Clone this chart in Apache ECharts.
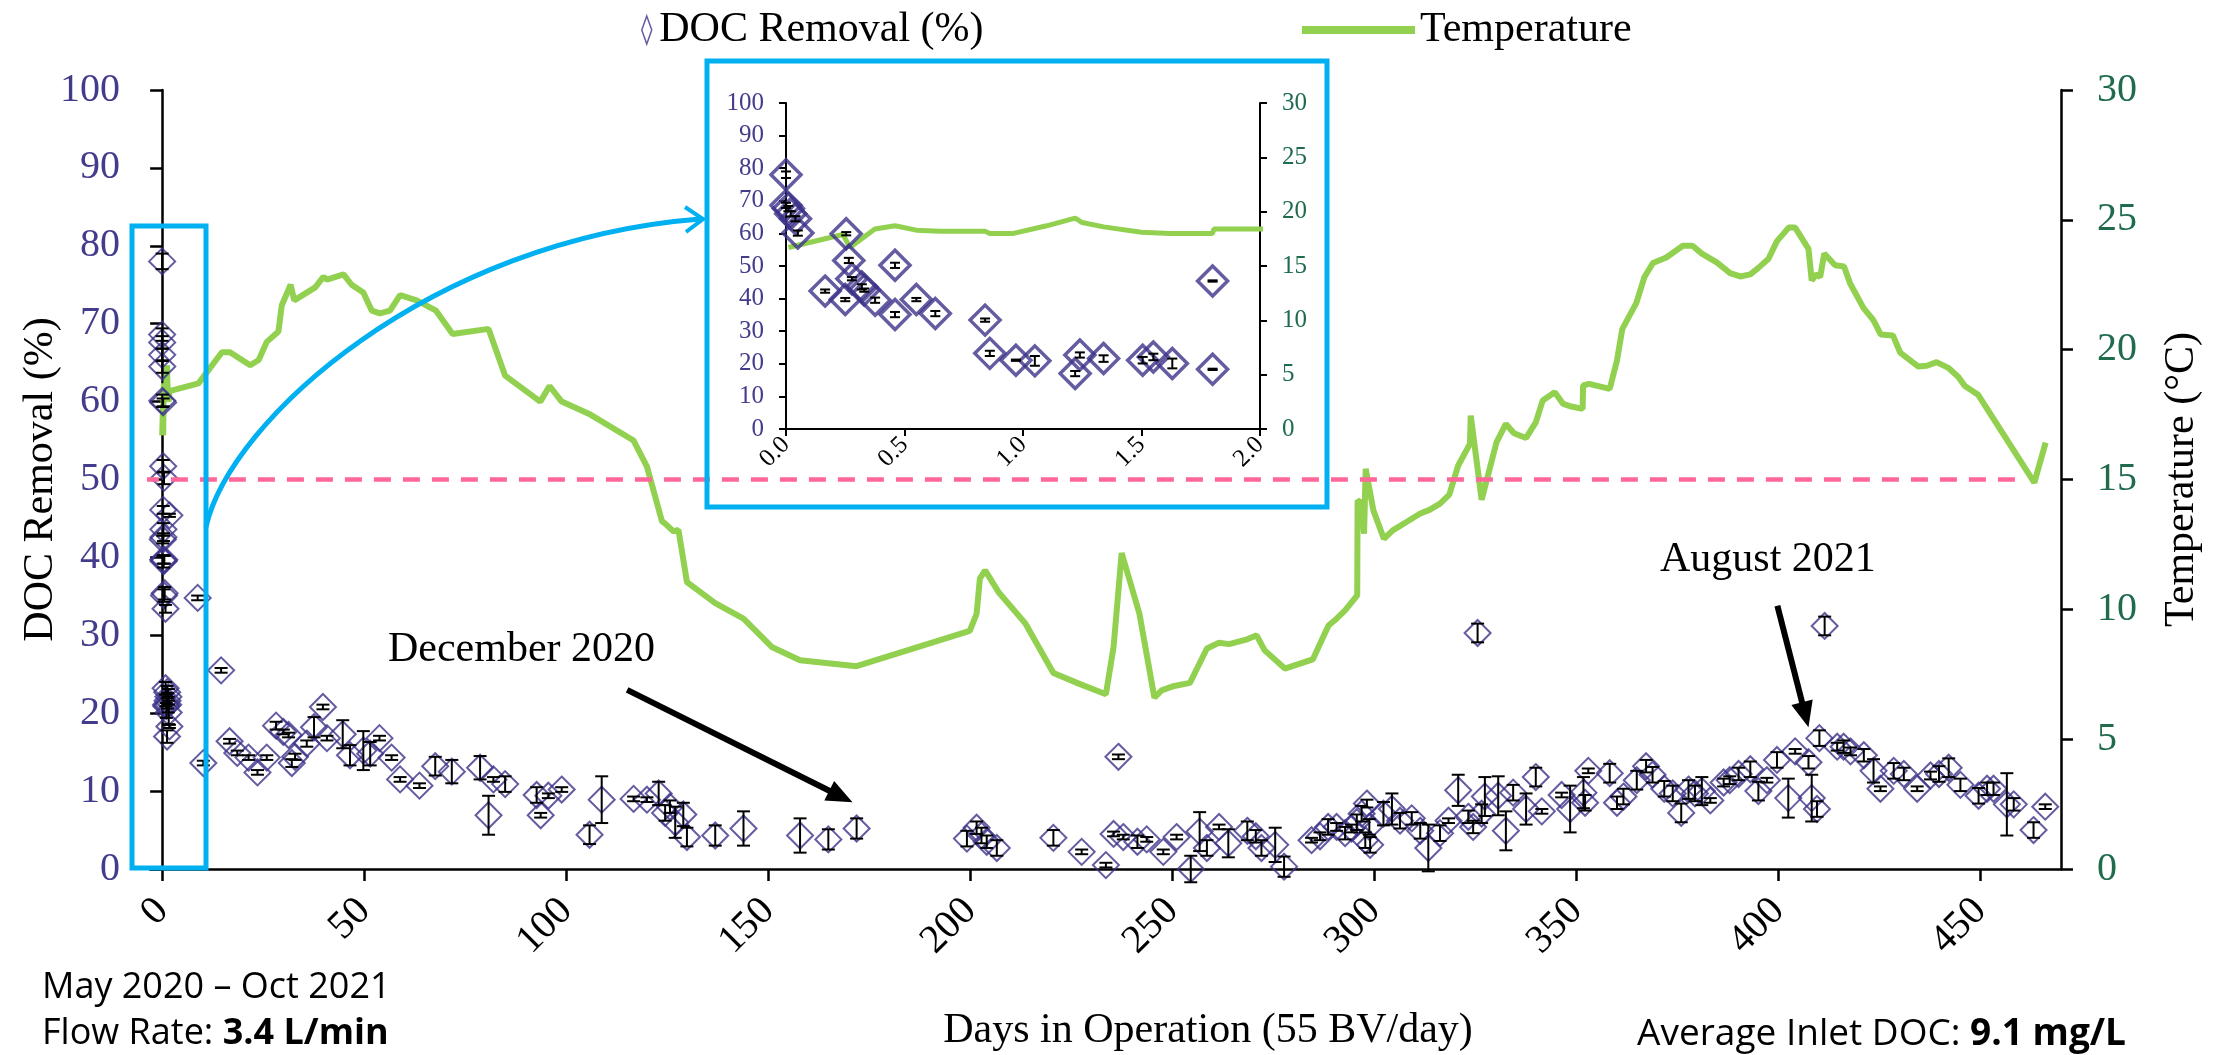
<!DOCTYPE html>
<html><head><meta charset="utf-8">
<script src="https://cdn.jsdelivr.net/npm/echarts@6/dist/echarts.min.js"></script>
<style>html,body{margin:0;padding:0;background:#fff}#c{width:2218px;height:1055px}</style>
</head><body><div id="c"></div>
<script>
// ---------------- DATA ----------------
const xTickValues = [0, 50, 100, 150, 200, 250, 300, 350, 400, 450];

// DOC removal (%) : day, value, error half-width
const docDays = [0,0,0.01,0.02,0.04,0.05,0.165,0.25,0.254,0.265,0.278,0.32,0.33,0.376,0.46,0.46,0.55,0.63,0.84,0.86,0.97,1.05,1.22,1.24,1.34,1.505,1.55,1.63,1.8,1.8,
8.8,10.2,14.6,16.7,18.6,21.4,23.6,25.9,28.2,30.0,
31.3,32.1,32.9,35.8,37.6,39.8,40.8,44.7,46.5,49.8,
51.5,53.8,56.8,58.9,63.7,67.6,71.7,78.7,80.8,82.0,
84.9,92.7,93.7,95.6,98.9,105.8,108.8,116.7,120.0,122.9,
124.5,125.7,127.0,129.0,129.9,136.9,143.9,157.9,164.9,171.9,
199.2,201.6,202.8,204.1,206.6,220.6,227.6,233.6,235.5,236.7,
237.9,241.4,243.7,247.8,251.1,254.6,256.8,258.6,261.6,263.9,
268.6,270.7,272.1,275.5,277.7,284.5,286.6,288.6,290.7,292.8,
294.4,295.7,296.9,297.8,298.2,298.8,299.0,302.3,304.4,306.4,
309.3,311.4,313.4,316.3,318.4,320.8,323.3,324.5,325.6,326.6,
327.4,330.7,332.6,334.4,337.6,340.0,341.5,346.4,348.5,351.8,
352.2,353.0,358.3,360.1,361.7,365.0,367.3,368.9,371.8,373.9,
376.0,377.8,379.4,381.1,383.2,386.5,388.0,390.2,393.1,395.1,
397.2,399.7,402.5,404.2,407.5,408.3,409.6,410.2,411.5,414.6,
416.2,417.9,421.2,423.6,425.3,428.6,431.1,434.4,437.7,439.8,
442.2,445.1,449.6,451.7,453.3,456.6,458.3,463.2,466.1];
const docValues = [78.0,68.6,67.6,66.0,64.5,60.1,42.3,39.7,59.9,51.7,46.1,43.6,42.6,39.5,50.2,35.1,39.7,35.4,33.4,23.2,21.1,20.9,17.0,22.7,21.6,21.1,22.1,20.1,45.4,18.3,
34.8,13.6,25.5,16.4,14.9,14.3,12.4,14.3,18.4,17.6,
17.2,13.6,14.4,16.1,18.2,20.8,16.8,17.3,14.6,15.2,
14.8,16.8,14.3,11.5,10.7,13.2,12.5,13.0,6.9,11.5,
10.9,9.5,6.9,9.4,10.2,4.4,8.9,9.0,8.9,9.7,
7.2,8.0,6.0,7.0,4.1,4.3,5.2,4.3,3.8,5.2,
3.9,5.3,4.3,3.5,2.7,4.0,2.2,0.5,4.5,14.4,
4.1,3.5,3.8,2.2,4.1,0.0,4.8,2.7,5.4,3.3,
4.9,4.2,2.7,3.1,0.3,3.7,4.2,5.4,5.4,4.6,
5.2,6.0,7.1,3.7,8.4,5.4,3.1,7.1,7.7,6.2,
6.5,4.9,2.7,4.6,6.2,10.1,6.7,5.4,30.3,7.1,
9.3,9.4,4.9,9.8,7.7,11.8,7.4,9.5,7.7,9.8,
8.5,12.6,12.3,8.5,9.3,11.4,13.2,12.1,10.3,9.7,
7.2,10.2,9.7,10.0,8.8,11.1,11.4,12.2,12.8,10.0,
11.4,14.0,9.1,15.1,13.7,9.1,7.7,16.8,31.2,15.7,
15.7,15.1,14.6,12.6,10.3,12.6,12.2,10.3,12.0,12.2,
13.0,10.8,9.4,10.3,10.3,8.3,8.3,5.0,8.0];
const docErrors = [1.0,0.8,0.8,0.8,0.8,0.8,0.5,0.5,0.5,0.8,0.5,0.8,0.5,0.8,0.8,0.8,0.5,0.8,0.5,0.8,0.2,1.5,0.8,0.8,1.0,1.0,1.0,1.5,0.2,0.2,
0.3,0.3,0.3,0.3,0.3,0.3,0.3,0.3,0.5,0.3,
0.3,0.5,0.4,0.4,1.3,0.3,0.3,1.8,1.3,2.5,
1.5,0.3,0.3,0.3,0.3,1.2,1.5,1.5,2.5,0.3,
1.0,1.0,0.3,0.3,0.3,1.2,3.0,0.3,0.3,1.5,
1.0,0.8,2.0,1.5,1.2,1.3,2.2,2.2,1.3,1.3,
1.0,0.8,1.0,0.8,1.0,1.0,0.3,0.3,0.3,0.3,
0.3,0.8,0.3,0.3,0.3,1.7,2.5,1.0,0.3,1.8,
1.2,0.8,1.0,2.2,1.3,0.3,0.5,1.0,0.5,0.8,
0.5,1.0,1.0,1.0,0.5,1.0,1.0,1.5,2.0,1.0,
0.8,1.0,3.0,1.0,0.3,2.0,0.8,0.8,1.2,1.2,
2.5,2.5,2.5,1.0,2.0,1.2,0.3,0.3,3.0,2.0,
1.0,0.3,1.2,0.8,1.0,1.2,0.8,1.0,1.0,1.0,
1.2,1.2,1.0,1.8,0.3,0.5,0.5,0.8,1.0,1.2,
0.3,1.0,2.5,0.3,0.8,3.0,1.0,1.0,1.2,0.5,
0.8,0.5,0.8,1.5,0.3,1.0,0.8,0.3,0.5,1.0,
1.2,0.8,1.0,0.8,0.8,4.0,0.8,1.0,0.3];

// Temperature (°C)
const tempDays = [0.01,0.24,0.27,0.375,0.46,0.55,0.65,0.84,0.86,0.96,1.1,1.22,1.25,1.34,1.5,1.62,1.8,1.805,2.0,
9.0,14.8,16.8,21.8,23.9,25.9,28.8,29.6,31.8,32.7,
37.9,39.9,40.8,44.9,46.9,49.8,51.9,53.9,56.4,58.9,
63.0,67.8,71.9,80.8,84.9,93.6,95.9,98.9,106.0,116.7,
120.0,123.7,124.5,126.6,127.8,129.9,136.9,143.9,150.9,157.9,
171.9,199.9,201.6,202.4,203.7,207.0,213.6,220.6,227.2,233.6,
235.5,237.5,241.9,245.6,247.4,250.5,254.4,258.6,261.6,264.1,
268.3,270.9,272.9,277.9,284.8,288.7,290.7,292.8,295.8,295.9,
296.7,297.5,297.9,299.8,302.4,304.6,308.4,311.3,313.8,316.3,
318.6,320.8,323.7,323.9,326.6,330.3,332.6,334.6,337.6,340.0,
341.7,344.7,346.8,348.8,351.6,351.7,353.2,358.3,360.1,361.4,
364.9,366.9,369.0,372.3,376.4,378.8,381.1,384.8,388.1,390.6,
393.1,395.1,397.6,399.7,402.6,404.2,407.5,408.3,409.4,410.4,
411.4,414.1,416.3,417.8,421.1,423.6,425.4,428.4,430.2,434.7,
436.8,439.2,442.1,444.6,446.2,449.5,463.4,466.2];
const tempValues = [16.7,17.9,16.7,18.4,18.7,18.3,18.2,18.2,18.0,18.0,18.7,19.4,19.0,18.6,18.1,18.0,18.0,18.4,18.4,
18.7,19.9,19.9,19.4,19.6,20.3,20.7,21.7,22.5,21.9,
22.4,22.8,22.7,22.9,22.5,22.2,21.5,21.4,21.5,22.1,
21.9,21.5,20.6,20.8,19.0,18.0,18.6,18.0,17.5,16.5,
15.5,13.4,13.3,13.0,13.06,11.05,10.24,9.64,8.55,8.04,
7.81,9.17,9.83,11.18,11.5,10.67,9.47,7.55,7.12,6.73,
8.55,12.17,9.83,6.6,6.88,7.05,7.17,8.49,8.71,8.66,
8.83,9.0,8.42,7.72,8.07,9.38,9.64,9.96,10.54,14.19,
14.13,12.91,15.41,13.81,12.72,13.04,13.4,13.68,13.84,14.07,
14.42,15.54,16.37,17.46,14.22,16.44,17.14,16.78,16.6,17.2,
18.04,18.36,17.91,17.81,17.72,18.62,18.68,18.49,19.58,20.79,
21.8,22.8,23.34,23.55,24.0,24.0,23.7,23.36,22.95,22.82,
22.9,23.15,23.5,24.18,24.7,24.7,23.88,22.67,22.9,22.8,
23.7,23.25,23.2,22.55,21.61,21.13,20.58,20.55,19.89,19.35,
19.38,19.52,19.3,18.95,18.6,18.26,14.88,16.42];

// 50 % removal reference line and its span (days)
const targetRemoval = 50;
const targetSpan = [-5, 460];
// inset range (days)
const insetMaxDay = 2;
// annotation arrows: [startDay, startDOC, endDay, endDOC]
const decArrow = [115.1, 23.0, 168.0, 9.3];
const augArrow = [399.8, 33.8, 406.7, 19.8];

// ---------------- BUILD ----------------
const serifName = 'Liberation Serif';
const serifFont = '"Liberation Serif", serif';
const sansFont = '"Open Sans", sans-serif';
const purple = '#3C3389';
const labPurple = '#433C8C';
const labGreen = '#1F6B4C';
const green = '#92D050';
const cyan = '#00B0F0';
const pink = '#FF6699';

const docPts = docDays.map((d, i) => [d, docValues[i]]);
const docErr = docDays.map((d, i) => [d, docValues[i], docErrors[i]]);
const insetPts = docPts.filter(p => p[0] <= insetMaxDay);
const insetErr = docErr.filter(p => p[0] <= insetMaxDay);
const tempPts = tempDays.map((d, i) => [d, tempValues[i]]);

function errorBar(capHalf, lw) {
  return function (params, api) {
    const x = api.value(0), v = api.value(1), e = api.value(2);
    const hi = api.coord([x, v + e]), lo = api.coord([x, v - e]);
    const st = { stroke: '#000', lineWidth: lw };
    return { type: 'group', children: [
      { type: 'line', shape: { x1: hi[0], y1: hi[1], x2: lo[0], y2: lo[1] }, style: st },
      { type: 'line', shape: { x1: hi[0] - capHalf, y1: hi[1], x2: hi[0] + capHalf, y2: hi[1] }, style: st },
      { type: 'line', shape: { x1: lo[0] - capHalf, y1: lo[1], x2: lo[0] + capHalf, y2: lo[1] }, style: st }
    ]};
  };
}

const option = {
  animation: false,
  backgroundColor: '#fff',
  textStyle: { fontFamily: serifName },
  grid: [
    { left: 150, top: 90, width: 1911, height: 779, outerBoundsMode: 'none', containLabel: false },
    { left: 786, top: 103, width: 474, height: 326, outerBoundsMode: 'none', containLabel: false }
  ],
  legend: [
    { data: [{ name: 'DOC Removal (%)', icon: 'path://M5,0L10,14L5,28L0,14Z',
               itemStyle: { color: 'rgba(0,0,0,0)', borderColor: purple, borderWidth: 1.5 } }],
      left: 636, top: 4, itemWidth: 15, itemHeight: 28, selectedMode: false,
      textStyle: { fontSize: 42, fontFamily: serifName, color: '#000' } },
    { data: [{ name: 'Temperature', icon: 'rect', itemStyle: { color: green } }],
      left: 1297, top: 4, itemWidth: 113, itemHeight: 8, selectedMode: false,
      textStyle: { fontSize: 42, fontFamily: serifName, color: '#000' } }
  ],
  xAxis: [
    { gridIndex: 0, type: 'value', min: -3, max: 470,
      axisLine: { lineStyle: { color: '#000', width: 2.5 } },
      axisTick: { customValues: xTickValues, length: 12, lineStyle: { color: '#000', width: 2.5 } },
      axisLabel: { customValues: xTickValues, rotate: 45, margin: 36, fontSize: 40, fontFamily: serifName, color: '#000' },
      splitLine: { show: false } },
    { gridIndex: 1, type: 'value', min: 0, max: 2, interval: 0.5,
      axisLine: { lineStyle: { color: '#000', width: 2 } },
      axisTick: { length: 7, lineStyle: { color: '#000', width: 2 } },
      axisLabel: { rotate: 45, margin: 12, fontSize: 25, fontFamily: serifName, color: '#000', formatter: v => v.toFixed(1) },
      splitLine: { show: false } }
  ],
  yAxis: [
    { gridIndex: 0, type: 'value', min: 0, max: 100, interval: 10, position: 'left',
      name: 'DOC Removal (%)', nameLocation: 'middle', nameGap: 88, nameMoveOverlap: false,
      nameTextStyle: { fontSize: 42, fontFamily: serifName, color: '#000' },
      axisLine: { onZero: true, lineStyle: { color: '#000', width: 2.5 } },
      axisTick: { length: 12, lineStyle: { color: '#000', width: 2.5 } },
      axisLabel: { margin: 30, fontSize: 40, fontFamily: serifName, color: labPurple },
      splitLine: { show: false } },
    { gridIndex: 0, type: 'value', min: 0, max: 30, interval: 5, position: 'right',
      name: 'Temperature (°C)', nameLocation: 'middle', nameGap: 100, nameMoveOverlap: false,
      nameTextStyle: { fontSize: 42, fontFamily: serifName, color: '#000' },
      axisLine: { onZero: false, lineStyle: { color: '#000', width: 2.5 } },
      axisTick: { length: 12, lineStyle: { color: '#000', width: 2.5 } },
      axisLabel: { margin: 36, fontSize: 40, fontFamily: serifName, color: labGreen },
      splitLine: { show: false } },
    { gridIndex: 1, type: 'value', min: 0, max: 100, interval: 10, position: 'left',
      axisLine: { onZero: false, lineStyle: { color: '#000', width: 2 } },
      axisTick: { length: 7, lineStyle: { color: '#000', width: 2 } },
      axisLabel: { margin: 22, fontSize: 25, fontFamily: serifName, color: labPurple },
      splitLine: { show: false } },
    { gridIndex: 1, type: 'value', min: 0, max: 30, interval: 5, position: 'right',
      axisLine: { onZero: false, lineStyle: { color: '#000', width: 2 } },
      axisTick: { length: 7, lineStyle: { color: '#000', width: 2 } },
      axisLabel: { margin: 22, fontSize: 25, fontFamily: serifName, color: labGreen },
      splitLine: { show: false } }
  ],
  series: [
    { type: 'line', name: 'Temperature', xAxisIndex: 0, yAxisIndex: 1, data: tempPts,
      symbol: 'none', showSymbol: false, lineStyle: { color: green, width: 6 }, itemStyle: { color: green }, z: 2 },
    { type: 'line', name: 'target', xAxisIndex: 0, yAxisIndex: 0,
      data: [[targetSpan[0], targetRemoval], [targetSpan[1], targetRemoval]],
      clip: false, symbol: 'none', silent: true,
      lineStyle: { color: pink, width: 4.5, type: [17, 12] }, z: 5,
      markLine: { silent: true, symbol: ['none', 'triangle'], symbolSize: [22, 26],
        label: { show: false }, emphasis: { disabled: true },
        lineStyle: { color: '#000', width: 6, type: 'solid' },
        data: [
          [{ coord: [decArrow[0], decArrow[1]] }, { coord: [decArrow[2], decArrow[3]] }],
          [{ coord: [augArrow[0], augArrow[1]] }, { coord: [augArrow[2], augArrow[3]] }]
        ] } },
    { type: 'scatter', name: 'DOC Removal (%)', xAxisIndex: 0, yAxisIndex: 0, data: docPts,
      symbol: 'diamond', symbolSize: [26, 26], clip: false,
      itemStyle: { color: 'rgba(255,255,255,0)', borderColor: purple, borderWidth: 2 }, z: 3 },
    { type: 'custom', name: 'DOC err', xAxisIndex: 0, yAxisIndex: 0, data: docErr,
      renderItem: errorBar(6.5, 2), encode: { x: 0, y: 1 }, z: 4, silent: true },
    { type: 'line', name: 'Temperature inset', xAxisIndex: 1, yAxisIndex: 3, data: tempPts,
      symbol: 'none', showSymbol: false, clip: true, lineStyle: { color: green, width: 5 }, z: 2 },
    { type: 'scatter', name: 'DOC inset', xAxisIndex: 1, yAxisIndex: 2, data: insetPts,
      symbol: 'diamond', symbolSize: [30, 30], clip: false,
      itemStyle: { color: 'rgba(255,255,255,0)', borderColor: purple, borderWidth: 3.5 }, z: 3 },
    { type: 'custom', name: 'DOC inset err', xAxisIndex: 1, yAxisIndex: 2, data: insetErr,
      renderItem: errorBar(5, 2), encode: { x: 0, y: 1 }, z: 4, silent: true }
  ],
  graphic: [
    { type: 'rect', shape: { x: 132, y: 226, width: 74, height: 642 }, style: { fill: 'none', stroke: cyan, lineWidth: 5 }, z: 10 },
    { type: 'rect', shape: { x: 707, y: 61, width: 620, height: 446 }, style: { fill: 'none', stroke: cyan, lineWidth: 5 }, z: 10 },
    { type: 'bezierCurve', shape: { x1: 206, y1: 527, cpx1: 230, cpy1: 420, cpx2: 430, cpy2: 240, x2: 700, y2: 219 },
      style: { fill: 'none', stroke: cyan, lineWidth: 5 }, z: 10 },
    { type: 'polyline', shape: { points: [[685, 207], [703, 219], [686, 232]] }, style: { fill: 'none', stroke: cyan, lineWidth: 4 }, z: 10 },
    { type: 'text', x: 388, y: 650, style: { text: 'December 2020', font: '42px ' + serifFont, fill: '#000', textAlign: 'left', textVerticalAlign: 'middle', align: 'left', verticalAlign: 'middle' }, z: 10 },
    { type: 'text', x: 1660, y: 560, style: { text: 'August 2021', font: '42px ' + serifFont, fill: '#000', textAlign: 'left', textVerticalAlign: 'middle', align: 'left', verticalAlign: 'middle' }, z: 10 },
    { type: 'text', x: 1208, y: 1031, style: { text: 'Days in Operation (55 BV/day)', font: '42px ' + serifFont, fill: '#000', textAlign: 'center', textVerticalAlign: 'middle', align: 'center', verticalAlign: 'middle' }, z: 10 },
    { type: 'text', x: 42, y: 988, style: { text: 'May 2020 \u2013 Oct 2021', font: '36px ' + sansFont, fill: '#000', textAlign: 'left', textVerticalAlign: 'middle', align: 'left', verticalAlign: 'middle' }, z: 10 },
    { type: 'text', x: 42, y: 1034, style: { text: 'Flow Rate: {b|3.4 L/min}', font: '36px ' + sansFont, fill: '#000', textAlign: 'left', textVerticalAlign: 'middle', align: 'left', verticalAlign: 'middle',
      rich: { b: { fontWeight: 'bold', fontSize: 36, fontFamily: 'Open Sans', fill: '#000' } } }, z: 10 },
    { type: 'text', x: 2126, y: 1034, style: { text: 'Average Inlet DOC: {b|9.1 mg/L}', font: '37px ' + sansFont, fill: '#000', textAlign: 'right', textVerticalAlign: 'middle', align: 'right', verticalAlign: 'middle',
      rich: { b: { fontWeight: 'bold', fontSize: 37, fontFamily: 'Open Sans', fill: '#000' } } }, z: 10 }
  ]
};

const chart = echarts.init(document.getElementById('c'), null, { renderer: 'canvas' });
chart.setOption(option);
</script></body></html>
